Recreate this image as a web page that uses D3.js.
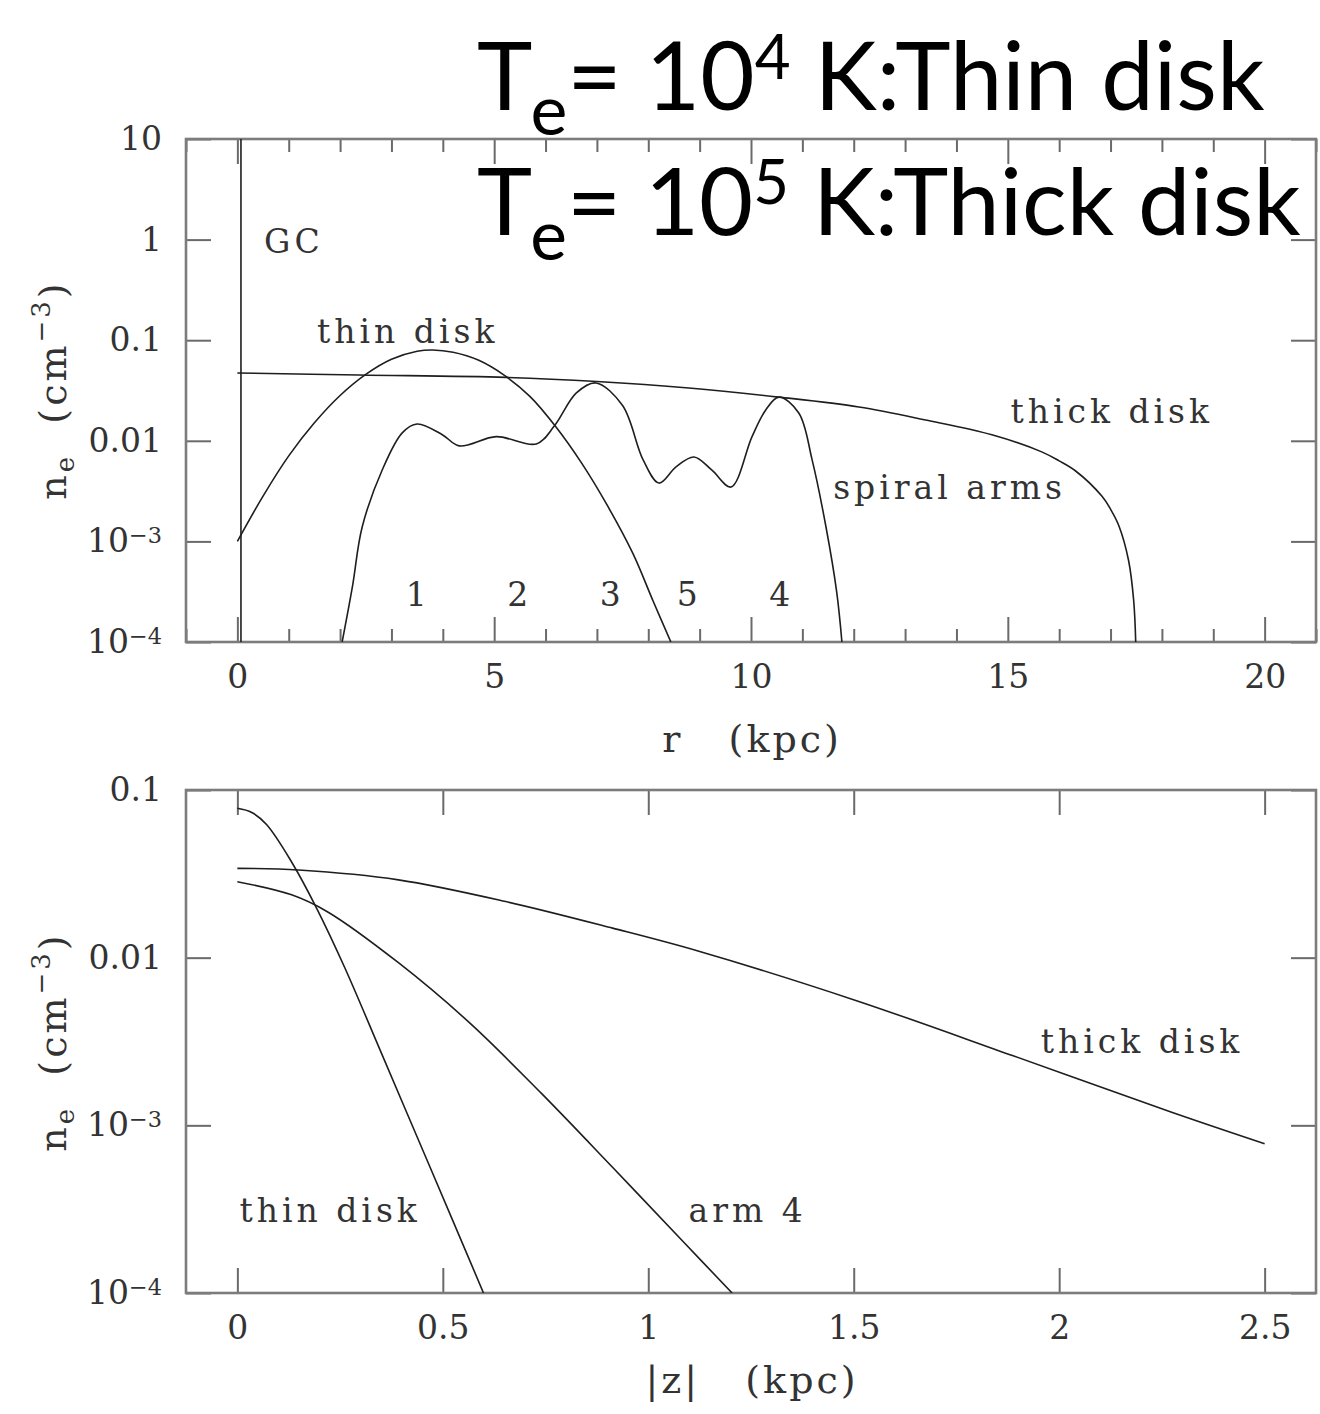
<!DOCTYPE html>
<html>
<head>
<meta charset="utf-8">
<script src="https://cdn.jsdelivr.net/npm/d3@7"></script>
<style>
  body { margin: 0; background: #fff; }
</style>
</head>
<body>
<div id="chart"></div>
<script>
// ---- top panel: radial profiles (r in kpc, ne in cm^-3) ----
const rThin = [0, 0.5, 1.0, 1.5, 2.0, 2.5, 3.0, 3.5, 3.8, 4.2, 4.7, 5.2, 5.7, 6.2, 6.7, 7.2, 7.7, 8.1, 8.44];
const neThin = [0.0010, 0.00282, 0.00708, 0.0151, 0.0282, 0.0457, 0.0646, 0.0776, 0.080, 0.0759, 0.0631, 0.0447, 0.0275, 0.0138, 0.00603, 0.00229, 0.000759, 0.000251, 0.0001];

const rThick = [0, 2.37, 5.23, 7.0, 8.79, 10.54, 12.1, 13.4, 14.69, 15.66, 16.0, 16.32, 16.83, 17.0, 17.16, 17.35, 17.45, 17.49];
const neThick = [0.0472, 0.0451, 0.0427, 0.0389, 0.0335, 0.0272, 0.0217, 0.0161, 0.01148, 0.00776, 0.00631, 0.00501, 0.00282, 0.00209, 0.00144, 0.00065, 0.00026, 0.0001];

const rArms = [2.04, 2.24, 2.43, 2.82, 3.21, 3.50, 3.99, 4.32, 5.04, 5.82, 6.17, 6.6, 6.98, 7.5, 7.9, 8.21, 8.54, 8.89, 9.24, 9.61, 10.02, 10.29, 10.54, 10.93, 11.19, 11.46, 11.67, 11.77];
const neArms = [0.0001, 0.000355, 0.00139, 0.00513, 0.0120, 0.0147, 0.0115, 0.0089, 0.0110, 0.0093, 0.0140, 0.0299, 0.0376, 0.0224, 0.00646, 0.0038, 0.0055, 0.0069, 0.0051, 0.00347, 0.0110, 0.0204, 0.0272, 0.0189, 0.00646, 0.00139, 0.00031, 0.0001];

const rGC = [0.07, 0.07];
const neGC = [0.0001, 10];

// arm numbers written under the peaks
const armNames = ['1', '2', '3', '5', '4'];
const armNameR = [3.52, 5.5, 7.3, 8.8, 10.6];

// ---- bottom panel: vertical profiles (|z| in kpc) ----
const zThin = [0, 0.035, 0.071, 0.132, 0.193, 0.262, 0.349, 0.436, 0.523, 0.599];
const neThinZ = [0.0778, 0.0735, 0.0622, 0.0372, 0.0197, 0.00865, 0.00275, 0.00087, 0.000275, 0.0001];

const zThick = [0, 0.149, 0.392, 0.653, 0.913, 1.121, 1.505, 1.888, 2.272, 2.5];
const neThickZ = [0.0341, 0.0333, 0.0291, 0.0216, 0.0150, 0.01096, 0.00556, 0.0026, 0.0012, 0.000776];

const zArm4 = [0, 0.132, 0.219, 0.392, 0.566, 0.74, 0.913, 1.087, 1.204];
const neArm4Z = [0.0284, 0.0237, 0.0188, 0.00933, 0.00407, 0.00155, 0.000562, 0.0002, 0.0001];

// tick values
const rMajor = [0, 5, 10, 15, 20];
const rMinor = d3.range(-1, 22).filter(v => v % 5 !== 0);
const zMajor = [0, 0.5, 1, 1.5, 2, 2.5];
const neTicksTop = [10, 1, 0.1, 0.01, 0.001, 0.0001];
const neTicksBottom = [0.1, 0.01, 0.001, 0.0001];

const W = 1320, H = 1414;
const serif = '"DejaVu Serif", serif';
const svg = d3.select('#chart').append('svg')
  .attr('width', W).attr('height', H)
  .style('background', '#fff');

const inkLine = '#1e1e1e';
const inkTick = '#6a6a6a';
const inkText = '#333';

function fmtNe(g) {
  g.selectAll('.tick text').each(function(d) {
    let t = d3.select(this);
    if (d < 0.005) {
      let e = Math.round(Math.log10(d));
      t.text('10');
      t.append('tspan').attr('dy', '-0.42em').attr('font-size', '0.68em').text('\u2212' + (-e));
    } else {
      t.text(String(d));
    }
  });
}

function panel(cfg) {
  let x = d3.scaleLinear().domain(cfg.xDomain).range([186, 1316]);
  let y = d3.scaleLog().domain(cfg.yDomain).range([cfg.bottom, cfg.top]);
  let g = svg.append('g');

  // minor x ticks
  if (cfg.xMinor) {
    g.append('g').attr('transform', `translate(0,${cfg.bottom})`)
      .call(d3.axisBottom(x).tickValues(cfg.xMinor).tickSizeInner(-13).tickSizeOuter(0).tickFormat(''));
    g.append('g').attr('transform', `translate(0,${cfg.top})`)
      .call(d3.axisTop(x).tickValues(cfg.xMinor).tickSizeInner(-13).tickSizeOuter(0).tickFormat(''));
  }
  // major x ticks + labels
  g.append('g').attr('class', 'xlab').attr('transform', `translate(0,${cfg.bottom})`)
    .call(d3.axisBottom(x).tickValues(cfg.xMajor).tickSizeInner(-25).tickSizeOuter(0).tickPadding(23)
      .tickFormat(d => String(d)));
  g.append('g').attr('transform', `translate(0,${cfg.top})`)
    .call(d3.axisTop(x).tickValues(cfg.xMajor).tickSizeInner(-25).tickSizeOuter(0).tickFormat(''));

  // y ticks, left with labels, right plain
  g.append('g').attr('class', 'ylab').attr('transform', 'translate(186,0)')
    .call(d3.axisLeft(y).tickValues(cfg.yTicks).tickSizeInner(-25).tickSizeOuter(0).tickPadding(24))
    .call(fmtNe);
  g.append('g').attr('transform', 'translate(1316,0)')
    .call(d3.axisRight(y).tickValues(cfg.yTicks).tickSizeInner(-25).tickSizeOuter(0).tickFormat(''));

  g.selectAll('.domain').remove();
  g.selectAll('.tick line').attr('stroke', inkTick).attr('stroke-width', 2);
  g.selectAll('.tick text')
    .attr('fill', inkText)
    .attr('font-size', 33)
    .attr('font-family', serif);

  // frame
  g.append('rect')
    .attr('x', 186).attr('y', cfg.top)
    .attr('width', 1316 - 186).attr('height', cfg.bottom - cfg.top)
    .attr('fill', 'none').attr('stroke', '#7c7c7c').attr('stroke-width', 2.6);

  // curves
  let clipId = 'clip' + cfg.top;
  svg.append('clipPath').attr('id', clipId).append('rect')
    .attr('x', 186).attr('y', cfg.top).attr('width', 1130).attr('height', cfg.bottom - cfg.top);
  let curves = g.append('g').attr('clip-path', `url(#${clipId})`);
  cfg.series.forEach(s => {
    let line = d3.line()
      .x(d => x(d[0])).y(d => y(d[1]))
      .curve(s.linear ? d3.curveLinear : d3.curveCatmullRom.alpha(0.5));
    curves.append('path')
      .attr('d', line(d3.zip(s.xs, s.ys)))
      .attr('fill', 'none')
      .attr('stroke', inkLine)
      .attr('stroke-width', 1.6);
  });

  return {x, y, g};
}

const topPanel = panel({
  xDomain: [-1, 21], yDomain: [1e-4, 10], top: 139, bottom: 642,
  xMajor: rMajor, xMinor: rMinor, yTicks: neTicksTop,
  series: [
    {xs: rGC, ys: neGC, linear: true},
    {xs: rThin, ys: neThin},
    {xs: rThick, ys: neThick},
    {xs: rArms, ys: neArms}
  ]
});

const botPanel = panel({
  xDomain: [-0.125, 2.625], yDomain: [1e-4, 0.1], top: 790, bottom: 1293,
  xMajor: zMajor, xMinor: null, yTicks: neTicksBottom,
  series: [
    {xs: zThin, ys: neThinZ},
    {xs: zThick, ys: neThickZ},
    {xs: zArm4, ys: neArm4Z}
  ]
});

// curve labels
function label(g, x, y, txt, anchor) {
  g.append('text')
    .attr('x', x).attr('y', y)
    .attr('text-anchor', anchor || 'start')
    .attr('font-family', serif)
    .attr('font-size', 33)
    .attr('letter-spacing', 4)
    .attr('fill', inkText)
    .style('white-space', 'pre')
    .text(txt);
}
label(topPanel.g, topPanel.x(0.52), 253, 'GC');
label(topPanel.g, topPanel.x(1.55), 343, 'thin disk');
label(topPanel.g, topPanel.x(15.05), 423, 'thick disk');
label(topPanel.g, topPanel.x(11.6), 499, 'spiral arms');
armNames.forEach((n, i) => label(topPanel.g, topPanel.x(armNameR[i]), 606, n, 'middle'));

label(botPanel.g, botPanel.x(0.005), 1222, 'thin disk');
label(botPanel.g, botPanel.x(1.098), 1222, 'arm 4');
label(botPanel.g, botPanel.x(1.955), 1053, 'thick disk');

// axis titles
function xTitle(cx, y, txt) {
  svg.append('text')
    .attr('x', cx).attr('y', y)
    .attr('text-anchor', 'middle')
    .attr('font-family', serif)
    .attr('font-size', 38)
    .attr('letter-spacing', 3)
    .attr('fill', inkText)
    .style('white-space', 'pre')
    .text(txt);
}
xTitle(752, 752, 'r   (kpc)');
xTitle(752, 1393, '|z|   (kpc)');

function yTitle(cy) {
  let t = svg.append('text')
    .attr('transform', `translate(66,${cy}) rotate(-90)`)
    .attr('text-anchor', 'middle')
    .attr('font-family', serif)
    .attr('font-size', 38)
    .attr('letter-spacing', 3)
    .attr('fill', inkText)
    .style('white-space', 'pre');
  t.append('tspan').text('n');
  t.append('tspan').attr('font-size', 26).attr('dy', 8).text('e');
  t.append('tspan').attr('dy', -8).text('  (cm');
  t.append('tspan').attr('font-size', 26).attr('dy', -16).text('\u22123');
  t.append('tspan').attr('dy', 16).text(')');
}
yTitle(390);
yTitle(1042);

// big overlay title lines
function bigLine(x0, y0, targetW, exp, rest) {
  let t = svg.append('text')
    .attr('x', x0).attr('y', y0)
    .style('font-family', 'Lato, "Noto Sans", sans-serif')
    .attr('font-size', 94)
    .attr('fill', '#000')
    .style('white-space', 'pre');
  t.append('tspan').text('T');
  t.append('tspan').attr('font-size', 70).attr('dy', 25).attr('dx', -2).text('e');
  t.append('tspan').attr('dy', -25).text('= 10');
  t.append('tspan').attr('font-size', 62).attr('dy', -31).text(exp);
  t.append('tspan').attr('dy', 31).text(' K:' + rest);
  let w = t.node().getBBox().width;
  let s = targetW / w;
  t.attr('transform', `translate(${x0},0) scale(${s},1) translate(${-x0},0)`);
}
bigLine(477, 110, 788, '4', 'Thin disk');
bigLine(477, 235, 824, '5', 'Thick disk');
</script>
</body>
</html>
